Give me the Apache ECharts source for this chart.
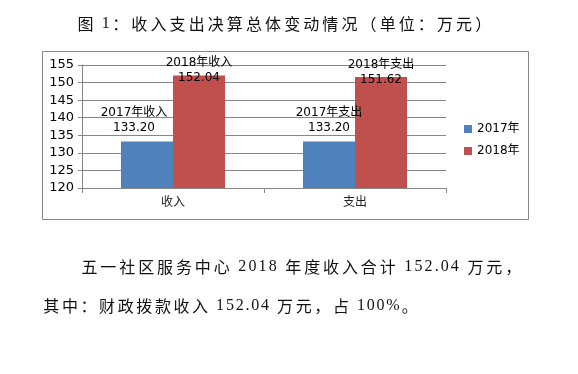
<!DOCTYPE html>
<html><head><meta charset="utf-8">
<script src="https://cdn.jsdelivr.net/npm/echarts@6/dist/echarts.min.js"></script>
<style>html,body{margin:0;padding:0;background:#fff}#c{width:578px;height:374px}</style>
</head><body><div id="c"></div>
<script>
var categories = ['收入', '支出'];
var seriesNames = ['2017年', '2018年'];
var values2017 = [133.20, 133.20];
var values2018 = [152.04, 151.62];
var titleText = '图 1：收入支出决算总体变动情况（单位：万元）';
var bodyLine1 = '五一社区服务中心 2018 年度收入合计 152.04 万元，';
var bodyLine2 = '其中：财政拨款收入 152.04 万元，占 100%。';

var cjkFont = '"Noto Sans CJK SC", sans-serif';
var latinFont = '"Liberation Serif", serif';
var sansFont = '"DejaVu Sans", "Noto Sans CJK SC", sans-serif';

// build spaced rich text (each character as its own token with small padding)
function spaced(text) {
  var out = '';
  for (var i = 0; i < text.length; i++) {
    var ch = text[i];
    var isLatin = ch.charCodeAt(0) < 0x2000;
    out += '{' + (isLatin ? 'l' : 'c') + '|' + ch + '}';
  }
  return out;
}
function richStyles(size, cjkPad, latinPad) {
  return {
    c: {fontSize: size, fontFamily: cjkFont, fill: '#111', padding: [0, cjkPad, 0, cjkPad], lineHeight: size + 2},
    l: {fontSize: size, fontFamily: latinFont, fill: '#111', padding: [0, latinPad, 0, latinPad], lineHeight: size + 2}
  };
}

var chart = echarts.init(document.getElementById('c'), null, {renderer: 'canvas'});
function fmt(p) { return p.seriesName + p.name + '\n' + p.value.toFixed(2); }
chart.setOption({
  animation: false,
  backgroundColor: '#fff',
  textStyle: {fontFamily: sansFont},
  grid: {left: 82, right: 132, top: 65, bottom: 186, containLabel: false},
  legend: {
    orient: 'vertical', left: 459, top: 118, itemWidth: 8, itemHeight: 8, itemGap: 10,
    icon: 'rect', textStyle: {fontSize: 12, color: '#000', fontFamily: sansFont},
    data: seriesNames
  },
  xAxis: {
    type: 'category', data: categories,
    axisLine: {lineStyle: {color: '#868686'}},
    axisTick: {show: true, length: 5, lineStyle: {color: '#868686'}},
    axisLabel: {fontSize: 12, color: '#222', margin: 9, fontFamily: sansFont}
  },
  yAxis: {
    type: 'value', min: 120, max: 155, interval: 5,
    axisLine: {show: true, lineStyle: {color: '#868686'}},
    axisTick: {show: true, length: 4, lineStyle: {color: '#868686'}},
    splitLine: {lineStyle: {color: '#868686'}},
    axisLabel: {fontSize: 13, color: '#000', margin: 8, fontFamily: sansFont}
  },
  series: [
    {name: seriesNames[0], type: 'bar', barWidth: 52, barGap: '0%',
     data: values2017.map(function (v, i) { return {value: v, label: {offset: [i === 0 ? -13 : 0, 0]}}; }),
     itemStyle: {color: '#4F81BD'},
     label: {show: true, position: 'top', distance: 6, formatter: fmt, fontSize: 12, lineHeight: 15, color: '#000', fontFamily: sansFont}},
    {name: seriesNames[1], type: 'bar', data: values2018, barWidth: 52, barGap: '0%',
     itemStyle: {color: '#C0504D'},
     label: {show: true, position: 'top', distance: -10, formatter: fmt, fontSize: 12, lineHeight: 15, color: '#000', fontFamily: sansFont}}
  ],
  graphic: [
    {type: 'rect', shape: {x: 42.5, y: 51.5, width: 486, height: 168}, silent: true, z: -1,
     style: {fill: 'none', stroke: '#868686', lineWidth: 1}},
    {type: 'text', left: 76, top: 16, style: {text: spaced(titleText), rich: richStyles(16, 1.55, 0.9)}},
    {type: 'text', left: 80, top: 259, style: {text: spaced(bodyLine1), rich: richStyles(16, 1.45, 1.05)}},
    {type: 'text', left: 42, top: 298, style: {text: spaced(bodyLine2), rich: richStyles(16, 1.3, 0.9)}}
  ]
});
</script></body></html>
